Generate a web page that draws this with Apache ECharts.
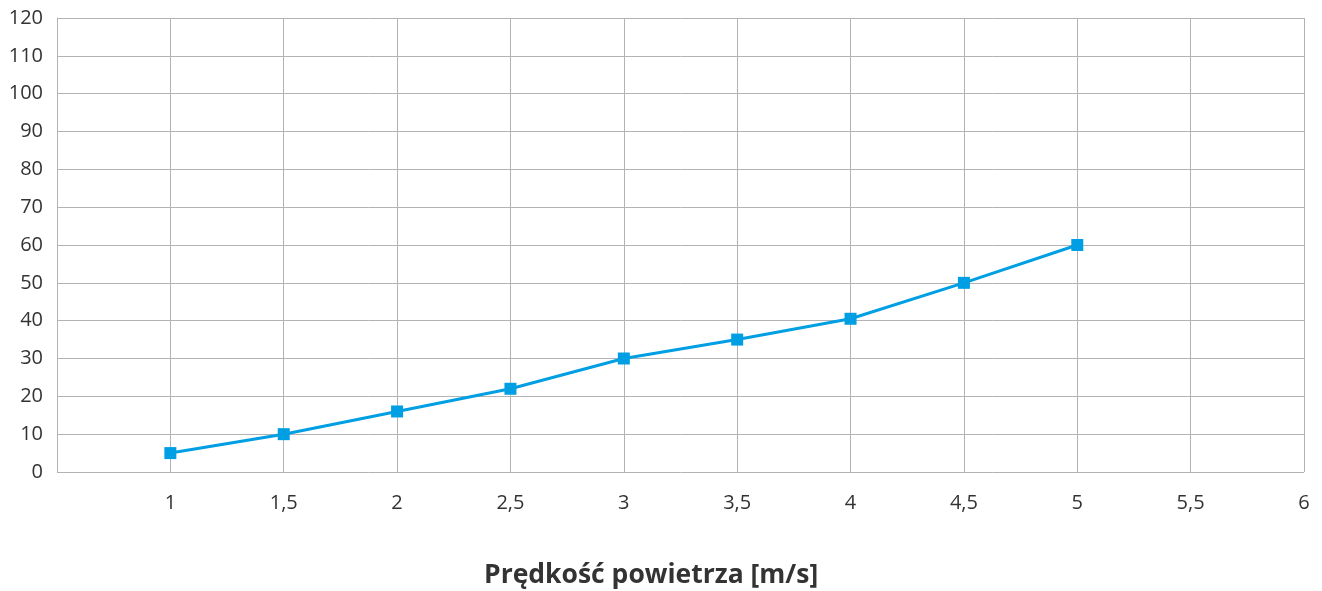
<!DOCTYPE html>
<html><head><meta charset="utf-8">
<script src="https://cdn.jsdelivr.net/npm/echarts@6/dist/echarts.min.js"></script>
<style>html,body{margin:0;padding:0;background:#fff}#c{width:1322px;height:591px}</style>
</head><body><div id="c"></div>
<script>
const xValues = [1, 1.5, 2, 2.5, 3, 3.5, 4, 4.5, 5];
const yValues = [5, 10, 16, 22, 30, 35, 40.5, 50, 60];
const xTitle = 'Prędkość powietrza [m/s]';

const chart = echarts.init(document.getElementById('c'));
chart.setOption({
  animation: false,
  title: {
    text: xTitle, left: 479, top: 557,
    textStyle: {fontFamily: 'Open Sans', fontWeight: 'bold', fontSize: 26.5, color: '#333333'}
  },
  grid: {left: 57, right: 18, top: 18, bottom: 119, containLabel: false},
  xAxis: {
    type: 'value', min: 0.5, max: 6, interval: 0.5,
    axisLine: {show: false}, axisTick: {show: false},
    splitLine: {show: true, lineStyle: {color: '#b3b3b3', width: 1}},
    axisLabel: {
      margin: 21, fontFamily: 'Open Sans', fontSize: 20, color: '#333333',
      showMinLabel: true,
      formatter: v => (Math.abs(v - 0.5) < 1e-9 ? '' : String(v).replace('.', ','))
    }
  },
  yAxis: {
    type: 'value', min: 0, max: 120, interval: 10,
    axisLine: {show: true, lineStyle: {color: '#b3b3b3'}}, axisTick: {show: false},
    splitLine: {show: true, lineStyle: {color: '#b3b3b3', width: 1}},
    axisLabel: {margin: 14, fontFamily: 'Open Sans', fontSize: 20, color: '#333333'}
  },
  series: [{
    type: 'line',
    data: xValues.map((x, i) => [x, yValues[i]]),
    symbol: 'rect', symbolSize: 12,
    lineStyle: {color: '#009fe3', width: 3},
    itemStyle: {color: '#009fe3'}
  }]
});
</script></body></html>
